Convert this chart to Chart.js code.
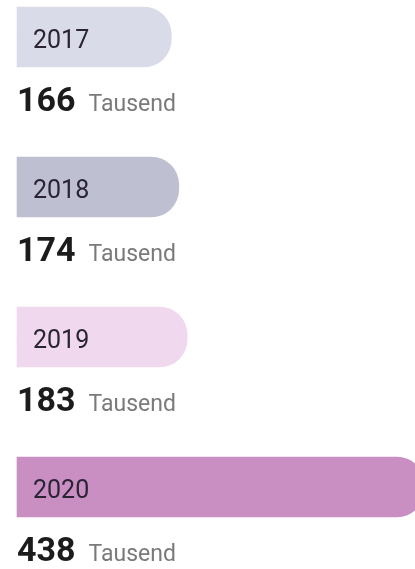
<!DOCTYPE html>
<html>
<head>
<meta charset="utf-8">
<script src="https://cdn.jsdelivr.net/npm/chart.js@4/dist/chart.umd.min.js"></script>
<style>
  html, body { margin: 0; padding: 0; background: #fff; }
  #wrap { width: 415px; height: 569px; }
</style>
</head>
<body>
<div id="wrap"><canvas id="chart" width="415" height="569"></canvas></div>
<script>
const years = ['2017', '2018', '2019', '2020'];
const values = [166, 174, 183, 438];
const unitLabel = 'Tausend';

const barColors = ['#d9dbe8', '#bebfd0', '#f0d8ee', '#c98fc3'];

// year inside the bar, value + unit under it
const barLabels = {
    id: 'barLabels',
    afterDatasetsDraw(chart) {
        const ctx = chart.ctx;
        const meta = chart.getDatasetMeta(0);
        ctx.save();
        meta.data.forEach((bar, i) => {
            const left = bar.base;
            ctx.textAlign = 'left';
            ctx.textBaseline = 'alphabetic';
            ctx.fillStyle = '#2a2435';
            ctx.font = '25px Roboto, sans-serif';
            ctx.fillText(years[i], left + 16, bar.y + 11);

            ctx.fillStyle = '#1c1c1c';
            ctx.font = 'bold 34px Roboto, sans-serif';
            const num = String(values[i]);
            ctx.fillText(num, left, bar.y + 74);
            const w = ctx.measureText(num).width;
            ctx.fillStyle = '#7a7a7a';
            ctx.font = '23px Roboto, sans-serif';
            ctx.fillText(unitLabel, left + w + 13, bar.y + 74);
        });
        ctx.restore();
    }
};

new Chart(document.getElementById('chart').getContext('2d'), {
    type: 'bar',
    data: {
        labels: years,
        datasets: [{
            data: values,
            backgroundColor: barColors,
            barThickness: 60,
            borderRadius: { topLeft: 0, bottomLeft: 0, topRight: 28, bottomRight: 28 },
            borderSkipped: false,
            clip: false
        }]
    },
    options: {
        indexAxis: 'y',
        responsive: false,
        animation: false,
        events: [],
        layout: { padding: { left: 17, right: 0, top: 37, bottom: 82 } },
        plugins: { legend: { display: false }, tooltip: { enabled: false } },
        scales: {
            x: { display: false, min: 0, max: 428 },
            y: { display: false, offset: false }
        }
    },
    plugins: [barLabels]
});
</script>
</body>
</html>
